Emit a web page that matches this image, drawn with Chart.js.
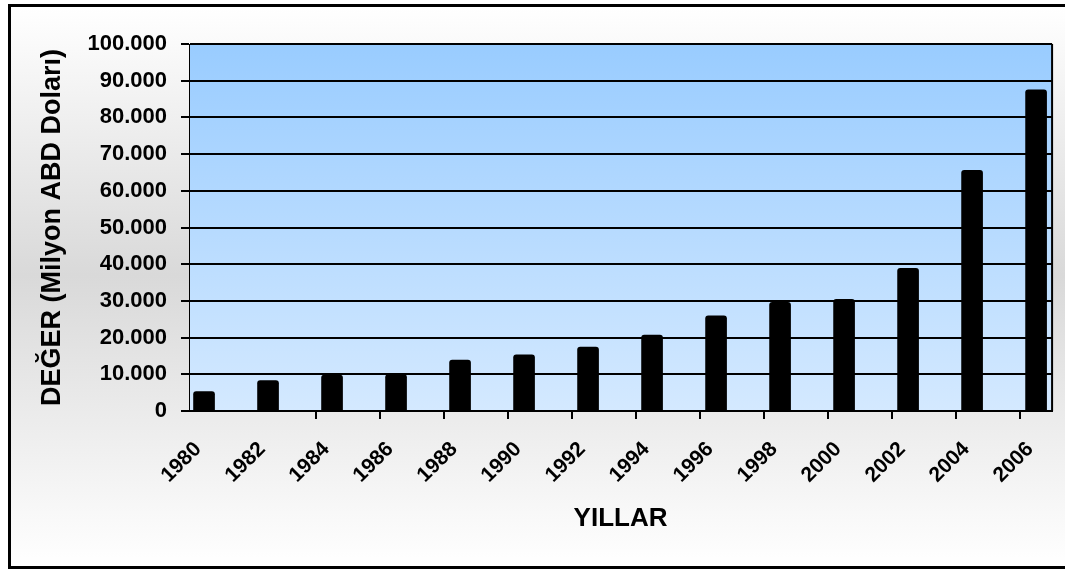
<!DOCTYPE html>
<html>
<head>
<meta charset="utf-8">
<script src="https://cdn.jsdelivr.net/npm/chart.js@4/dist/chart.umd.min.js"></script>
<style>
  html, body { margin: 0; padding: 0; background: #fff; overflow: hidden; }
  #frame {
    position: absolute; left: 8px; top: 4px;
    width: 1070px; height: 559px;
    border: 3px solid #000;
    background: linear-gradient(to bottom, #ffffff 0%, #d9d9d9 48%, #ffffff 100%);
  }
  #chart { position: absolute; left: 0; top: 0; }
</style>
</head>
<body>
<div id="frame"><canvas id="chart" width="1061" height="559"></canvas></div>
<script>
// ihracat degerleri, milyon ABD dolari
let years = [1980, 1982, 1984, 1986, 1988, 1990, 1992, 1994, 1996, 1998, 2000, 2002, 2004, 2006];
let values = [5300, 8300, 9800, 9900, 13900, 15300, 17400, 20700, 25900, 29600, 30400, 38900, 65600, 87500];
let yTicks = [0, 10000, 20000, 30000, 40000, 50000, 60000, 70000, 80000, 90000, 100000];

let boldFont = "'Liberation Sans', Arial, sans-serif";

function fmt(v) {
    return v.toLocaleString('de-DE');
}

// plot area gradient + x axis tick marks
let plotBg = {
    id: 'plotBg',
    beforeDraw(chart) {
        let a = chart.chartArea, ctx = chart.ctx;
        let g = ctx.createLinearGradient(0, a.top, 0, a.bottom);
        g.addColorStop(0, 'rgb(153,204,255)');
        g.addColorStop(1, 'rgb(212,233,255)');
        ctx.save();
        ctx.fillStyle = g;
        ctx.fillRect(a.left, a.top, a.right - a.left, a.bottom - a.top);
        ctx.restore();
    },
    afterDraw(chart) {
        let a = chart.chartArea, ctx = chart.ctx, x = chart.scales.x;
        ctx.save();
        ctx.strokeStyle = '#000';
        ctx.lineWidth = 2;
        ctx.beginPath();
        for (let i = 2; i < years.length; i++) {
            let px = Math.round(x.getPixelForValue(years[i] - 0.5));
            ctx.moveTo(px, a.bottom);
            ctx.lineTo(px, a.bottom + 8);
        }
        // frame of plot area
        ctx.moveTo(a.right, a.top);
        ctx.lineTo(a.right, a.bottom);
        ctx.stroke();
        ctx.restore();
    }
};

let ctx = document.getElementById('chart').getContext('2d');
new Chart(ctx, {
    type: 'bar',
    data: {
        datasets: [{
            data: years.map((y, i) => ({ x: y, y: values[i] })),
            backgroundColor: '#000',
            borderWidth: 0,
            borderRadius: 3,
            borderSkipped: 'start',
            barThickness: 21
        }]
    },
    options: {
        responsive: false,
        animation: false,
        layout: { padding: { left: 10, right: 5, top: 37, bottom: 0 } },
        plugins: { legend: { display: false }, tooltip: { enabled: false } },
        scales: {
            x: {
                type: 'linear',
                offset: false,
                min: 1979.53,
                max: 2006.5,
                afterBuildTicks: s => { s.ticks = years.map(v => ({ value: v })); },
                afterFit: s => { s.height = 155; },
                grid: { display: false },
                border: { display: true, color: '#000', width: 2 },
                ticks: {
                    autoSkip: false,
                    minRotation: 45,
                    maxRotation: 45,
                    padding: 18,
                    labelOffset: -6,
                    color: '#000',
                    font: { family: boldFont, size: 21, weight: 'bold' },
                    callback: v => String(v)
                },
                title: {
                    display: true,
                    text: 'YILLAR',
                    color: '#000',
                    font: { family: boldFont, size: 26, weight: 'bold' },
                    padding: { top: 0, bottom: 32 }
                }
            },
            y: {
                min: 0,
                max: 100000,
                afterBuildTicks: s => { s.ticks = yTicks.map(v => ({ value: v })); },
                afterFit: s => { s.width = 168; },
                grid: {
                    color: '#000',
                    lineWidth: 2,
                    tickLength: 8,
                    drawTicks: true
                },
                border: { display: true, color: '#000', width: 1 },
                ticks: {
                    padding: 14,
                    color: '#000',
                    font: { family: boldFont, size: 22, weight: 'bold' },
                    callback: v => fmt(v)
                },
                title: {
                    display: true,
                    text: 'DEĞER (Milyon ABD Doları)',
                    color: '#000',
                    font: { family: boldFont, size: 27, weight: 'bold' },
                    padding: { top: 15, bottom: 0 }
                }
            }
        }
    },
    plugins: [plotBg]
});
</script>
</body>
</html>
